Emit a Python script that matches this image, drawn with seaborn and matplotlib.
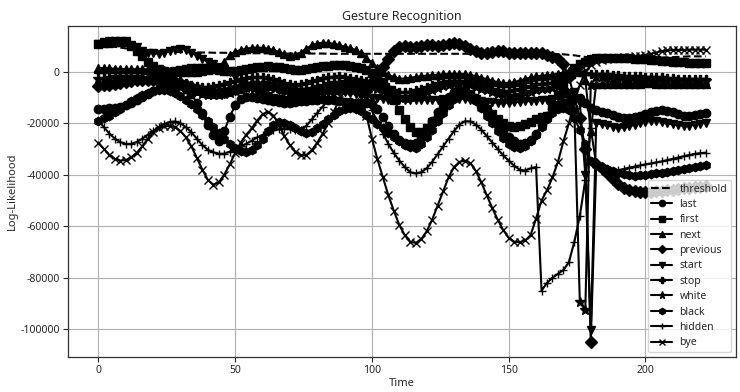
import numpy as np
import pandas as pd
import matplotlib
matplotlib.use("Agg")
import matplotlib.pyplot as plt
import seaborn as sns

# time axis (every 2 steps)
time = list(range(0, 223, 2))

# values in thousands of log-likelihood units
threshold = [10.5, 10.3, 10, 9.7, 9.4, 9.1, 8.9, 8.6, 8.4, 8.2,
             8, 7.9, 7.8, 7.8, 7.7, 7.7, 7.6, 7.6, 7.5, 7.5,
             7.5, 7.4, 7.4, 7.4, 7.3, 7.3, 7.3, 7.3, 7.2, 7.2,
             7.2, 7.2, 7.2, 7.2, 7.1, 7.1, 7.1, 7.1, 7.1, 7.1,
             7.1, 7.1, 7, 7, 7, 7, 7, 7, 7, 7,
             7, 7, 7, 7, 7, 7, 7, 7, 7, 7,
             7, 7, 7, 7, 7, 7, 7, 7, 7, 7,
             7, 7, 7, 7, 7, 7, 7, 7, 7, 7,
             7, 7, 7, 7, 6.9, 6.8, 6.6, 6.4, 6.1, 5.8,
             5.5, 5.3, 5.2, 5.1, 5, 5, 5, 5, 5, 5.1,
             5.2, 5.3, 5.4, 5.5, 5.6, 5.7, 5.8, 5.9, 6, 6,
             6, 6]
last = [-14.4, -14.3, -14.2, -14, -13.6, -13, -12, -11, -9.8, -8.6,
        -7.5, -6.5, -5.6, -5, -4.8, -5.2, -6.5, -8.8, -12, -16,
        -20.5, -24.5, -27, -23, -17.5, -13, -10.5, -9.6, -9.6, -10,
        -10.5, -11, -11.5, -11.8, -12, -12, -11.8, -11.5, -11.2, -11,
        -10.8, -10.7, -10.8, -11, -11.3, -11.6, -11.8, -12, -12, -12,
        -12.5, -14.5, -17.5, -21, -24, -26.3, -27.8, -28.2, -27.5, -25.5,
        -22.5, -19, -15.5, -12.3, -9.8, -8, -7.3, -7.5, -8.5, -10.3,
        -12.5, -15, -17.8, -20.5, -23, -25.3, -27, -28, -27.8, -26.5,
        -24, -20.5, -17, -14.5, -13, -12, -11.2, -10.5, -10, -12,
        -14, -15, -15.5, -16, -16.8, -17.4, -17.8, -17.8, -17.5, -17,
        -16.4, -15.8, -15.2, -15, -15.2, -15.8, -16.5, -17, -17, -16.6,
        -16.3, -16]
first = [11, 11.2, 11.3, 11.4, 11.5, 11.5, 10, 8, 6, 4,
         2.2, 1, 0.3, 0, 0.2, 0.6, 1, 1.3, 1.5, 1.5,
         1.3, 1, 0.6, 0.3, 0.2, 0.3, 0.6, 1, 1.4, 1.8,
         2, 2.1, 2, 1.7, 1.3, 1, 0.8, 0.8, 1, 1.3,
         1.7, 2.1, 2.4, 2.6, 2.6, 2.5, 2.3, 2, 1.5, 0.6,
         -0.5, -2, -4, -7, -11, -15, -18.5, -21.5, -23.5, -23.5,
         -22, -19.5, -16.5, -13.5, -11, -9.5, -8.7, -8.5, -9, -10.5,
         -12.5, -14.5, -16.5, -18.5, -20, -21, -21.3, -21, -20.3, -19.5,
         -18.5, -17.5, -17, -13, -9, -5, -1, 1.5, 3, 4,
         4.8, 5.2, 5.4, 5.5, 5.5, 5.4, 5.3, 5.2, 5.1, 5,
         4.8, 4.7, 4.5, 4.3, 4.1, 3.9, 3.8, 3.7, 3.5, 3.5,
         3.4, 3.4]
next_ = [1.5, 1.4, 1.3, 1.2, 1.1, 1, 1, 1, 1, 1,
         1, 0.9, 0.7, 0.5, 0.3, 0.1, 0, 0, 0.1, 0.3,
         0.6, 1, 1.8, 4, 6.5, 7.8, 8.5, 9, 9.3, 9.4,
         9.3, 9, 8.5, 7.7, 6.8, 6.2, 6.5, 7.5, 9, 10.3,
         11, 11.3, 11.2, 10.9, 10.4, 9.8, 9.2, 8.5, 7.2, 5.5,
         3.5, 1.5, 0, -1.2, -2, -2.7, -2.6, -2.3, -2, -1.7,
         -1.5, -1.3, -1.1, -1, -0.9, -0.8, -0.8, -0.9, -1.2, -1.7,
         -2.3, -2.9, -3.5, -4, -4.3, -4.3, -4, -3.4, -2.8, -2.2,
         -1.8, -1.5, -1.4, -1.1, -0.7, -0.3, 0.3, 1, 0, -3,
         -23, -4.6, -4.6, -4.7, -4.8, -4.8, -4.8, -4.7, -4.6, -4.6,
         -4.5, -4.5, -4.6, -4.7, -4.8, -4.8, -4.8, -4.7, -4.7, -4.7,
         -4.7, -4.7]
previous = [-5.4, -5.2, -5, -4.6, -4.2, -3.8, -3.5, -3.3, -3.2, -3.2,
            -3.3, -3.4, -3.6, -3.8, -4, -4.4, -5, -5.8, -6.6, -7.3,
            -7.8, -8, -8, -7.7, -7.2, -6.6, -6, -5.5, -5.2, -5,
            -5, -5.2, -5.6, -6.1, -6.7, -7.2, -7.6, -7.8, -7.8, -7.5,
            -7, -6.5, -6.1, -5.8, -5.8, -6, -6.5, -7.2, -7.9, -7.5,
            -4, -1, 2, 5, 8, 9.5, 10, 9.8, 9.5, 10,
            10.5, 10.5, 10.2, 10.5, 11, 11.2, 10.8, 10, 9, 8,
            7.4, 7.3, 7.8, 8.2, 8, 7.5, 7.2, 7.2, 7.4, 7.5,
            7.5, 7.2, 6.5, 5.8, 5, 3, -2, -10, -18, -30,
            -105, -36, -37.5, -39.5, -41.5, -43.5, -45, -46, -46.5, -46.8,
            -46.8, -46.7, -46.5, -46.3, -46, -45.8, -45.5, -45.3, -45.1, -44.9,
            -44.7, -44.5]
start = [11, 11.5, 11.8, 12, 12, 11.8, 10.5, 9.5, 8, 7.5,
         7.2, 7, 7.3, 8, 8.6, 9, 8.6, 7.5, 6.3, 5,
         4, 3, 2, 1, 0, -2, -3.8, -5.5, -6.8, -8,
         -8.8, -9.5, -10, -10.5, -10.8, -11, -10.8, -10.3, -9.8, -9.3,
         -9, -8.7, -8.4, -8.2, -8, -8, -8.2, -8.6, -9.1, -9.6,
         -10, -10.3, -10.6, -10.8, -11, -11, -11.1, -11.1, -11, -11,
         -11, -10.9, -10.8, -10.7, -10.6, -10.5, -10.5, -10.6, -10.8, -11.1,
         -11.4, -11.7, -11.9, -12, -12, -12, -11.9, -11.7, -11.5, -11.3,
         -11.2, -11, -11, -10.5, -9.8, -9, -8.4, -8, -12, -40,
         -100.5, -20, -20.3, -20.8, -21.3, -21.7, -21.6, -21.2, -20.6, -20,
         -19.4, -19.1, -19.1, -19.4, -19.9, -20.4, -20.8, -21, -20.9, -20.5,
         -20.1, -19.8]
stop = [0, 0.1, 0.2, 0.4, 0.5, 0.5, 0.4, 0.2, -0.1, -0.5,
        -1, -1.5, -2, -2.5, -3, -3.6, -4.3, -5, -5.6, -6,
        -6, -5.7, -5.2, -4.6, -4, -3.4, -2.9, -2.5, -2.2, -2,
        -2, -2.3, -2.9, -3.6, -4.3, -4.8, -5, -4.8, -4.3, -3.6,
        -3, -2.5, -2.1, -1.9, -1.8, -2, -2.3, -2.8, -3.3, -3.7,
        -4, -4.5, -5.2, -6, -7, -7.8, -8, -7.7, -7.2, -6.5,
        -5.8, -5.1, -4.5, -4, -3.7, -3.5, -3.5, -3.7, -4.1, -4.7,
        -5.3, -6, -6.6, -7.1, -7.4, -7.4, -7.1, -6.6, -6, -5.4,
        -4.9, -4.6, -4.4, -4.2, -3.6, -3, -2, -1, 0, -0.5,
        -1, -0.8, -0.8, -1, -1.2, -1.4, -1.6, -1.7, -1.8, -1.8,
        -1.9, -2, -2.1, -2.2, -2.4, -2.5, -2.6, -2.6, -2.7, -2.7,
        -2.7, -2.7]
white = [-2.7, -2.6, -2.4, -2.2, -2, -2, -2, -2.1, -2.3, -2.6,
         -3, -3.5, -4.1, -4.7, -5.3, -6, -6.7, -7.4, -8, -8.6,
         -9, -9.1, -9, -8.7, -8.2, -7.6, -7, -6.3, -5.7, -5.2,
         -5, -5.2, -5.7, -6.4, -7.1, -7.7, -8, -7.9, -7.5, -6.8,
         -6, -5.4, -4.9, -4.5, -4.2, -4, -4.1, -4.4, -4.9, -5.5,
         -6, -6.7, -7.5, -8.3, -9.1, -9.7, -10, -9.9, -9.4, -8.7,
         -7.8, -7, -6.2, -5.5, -5, -4.7, -4.6, -4.8, -5.2, -5.8,
         -6.5, -7.2, -7.9, -8.5, -9, -9.3, -9.3, -9, -8.4, -7.8,
         -7.2, -6.8, -6.6, -6.3, -6, -7, -10, -15, -89.5, -92.6,
         -5, -2, -2.2, -2.5, -2.8, -3, -3.1, -3.2, -3.3, -3.3,
         -3.4, -3.4, -3.4, -3.5, -3.5, -3.5, -3.5, -3.5, -3.5, -3.5,
         -3.5, -3.5]
black = [-19, -18, -17, -15.8, -14.3, -12.8, -11.3, -10, -9, -8.2,
         -7.6, -7.2, -7.1, -7.5, -8.3, -9.5, -11, -12.7, -14.6, -16.7,
         -19, -21.4, -23.8, -26, -28, -29.7, -30.8, -31, -30.3, -28.5,
         -26, -23, -20.5, -19.5, -19.8, -20.8, -22, -23, -23.6, -23.3,
         -22, -20.3, -18.5, -16.8, -15.4, -14.4, -14, -14.3, -15.3, -16.8,
         -18.5, -20.3, -22, -23.6, -25.3, -27, -28.5, -29.4, -29.5, -28,
         -25.5, -22.5, -19.3, -16, -13, -10.5, -9.2, -9, -9.8, -11.5,
         -14, -17, -20, -23, -25.8, -28, -29.3, -29.6, -28.8, -27,
         -24.5, -21.5, -18.5, -16, -14.5, -14, -15, -18, -22.5, -28,
         -34.5, -36.2, -37, -37.8, -38.5, -39.2, -39.8, -40.1, -40.3, -40.2,
         -40, -39.8, -39.5, -39.2, -38.8, -38.4, -38, -37.6, -37.2, -36.8,
         -36.5, -36.3]
hidden = [-19, -21.5, -24, -26, -27.3, -28, -28, -27.3, -26, -24.5,
          -23, -21.5, -20.3, -19.5, -19.3, -20, -21.5, -23.5, -26, -28.5,
          -30.3, -31.3, -31.8, -31.8, -31, -30, -29, -28, -26.8, -25.5,
          -24.5, -23.5, -22.8, -22.3, -22.2, -22.3, -22.5, -22.5, -21, -18.5,
          -16, -13.5, -11, -8.8, -6.8, -5.3, -4.6, -5, -7, -10.5,
          -15, -19.5, -24, -28, -31.5, -34.5, -37, -39, -39.5, -39,
          -37.5, -35, -32, -29, -26, -23, -20.5, -19.2, -19.3, -20.5,
          -22.5, -25, -27.5, -30, -32.5, -34.5, -36.5, -38, -38.4, -37.5,
          -37, -85, -82, -80, -78.5, -77, -74, -66, -56, -42,
          -22, -36, -38.5, -38.6, -38.5, -38.2, -37.8, -37.2, -36.8, -36.4,
          -36, -35.6, -35.2, -34.8, -34.3, -33.8, -33.3, -32.8, -32.3, -31.9,
          -31.6, -31.4]
bye = [-27.5, -30, -32.3, -33.8, -34.5, -34.3, -33.2, -31.5, -29, -26,
       -23.5, -22, -21.2, -21, -21.5, -23, -25.5, -29, -33.5, -38,
       -42, -43.8, -43, -40, -36, -31.5, -27.5, -24.5, -22, -19,
       -16.5, -15.5, -17, -20.5, -25, -28.5, -31, -32.5, -32.3, -30.5,
       -27.5, -24, -20, -15.5, -11, -7.5, -5.5, -5.5, -9, -17,
       -26, -34, -41, -48, -54, -59.5, -63.5, -66, -66.5, -65,
       -62, -57.5, -52, -46.5, -41, -37, -35, -34.5, -35.5, -38.5,
       -43, -48, -53, -57.5, -61.5, -64.5, -66, -66.2, -65.5, -63.5,
       -57, -50, -46, -41, -35, -27, -20, -12, -5, 0,
       2.5, 4, 4.5, 5, 5.2, 5.4, 5.6, 5.8, 6, 6.2,
       6.5, 7, 7.5, 8, 8.3, 8.5, 8.5, 8.5, 8.6, 8.6,
       8.6, 8.6]

names = ["threshold", "last", "first", "next", "previous", "start",
         "stop", "white", "black", "hidden", "bye"]
series = [threshold, last, first, next_, previous, start,
          stop, white, black, hidden, bye]
markers = {"threshold": None, "last": "o", "first": "s", "next": "^",
           "previous": "D", "start": "v", "stop": "P", "white": "*",
           "black": "h", "hidden": "+", "bye": "x"}

sns.set_style("ticks")
plt.rcParams["font.family"] = ["Noto Sans", "DejaVu Sans"]
plt.rcParams["font.size"] = 8
plt.rcParams["axes.unicode_minus"] = False

fig = plt.figure(figsize=(7.4, 3.92), dpi=100)
ax = fig.add_axes([0.092, 0.089, 0.9026, 0.845])

for name, vals in zip(names, series):
    df = pd.DataFrame({"Time": time, "LL": np.array(vals) * 1000})
    kw = dict(color="black", linewidth=1.5, ax=ax, label=name)
    if markers[name] is None:
        sns.lineplot(data=df, x="Time", y="LL", linestyle="--", **kw)
    else:
        ms = 7 if markers[name] == "*" else 6
        sns.lineplot(data=df, x="Time", y="LL", marker=markers[name],
                     markersize=ms, markeredgecolor="black",
                     markeredgewidth=1.0, **kw)

ax.grid(True, color="#b0b0b0", linewidth=0.8)
ax.set_axisbelow(True)
for s in ax.spines.values():
    s.set_color("#333333")
    s.set_linewidth(0.9)
ax.set_title("Gesture Recognition", fontsize=9, pad=4)
ax.set_xlabel("Time", fontsize=8, labelpad=1)
ax.set_ylabel("Log-Likelihood", fontsize=8, labelpad=2)
ax.set_xticks([0, 50, 100, 150, 200])
ax.set_yticks([0, -20000, -40000, -60000, -80000, -100000])
ax.tick_params(labelsize=7.5, pad=2.5)
ax.legend(loc="lower right", fontsize=7.5, framealpha=0.8,
          labelspacing=0.42, borderaxespad=0.5, markerscale=0.75,
          handlelength=2.0, handletextpad=0.7, borderpad=0.35)

fig.savefig("out.png", dpi=100)
